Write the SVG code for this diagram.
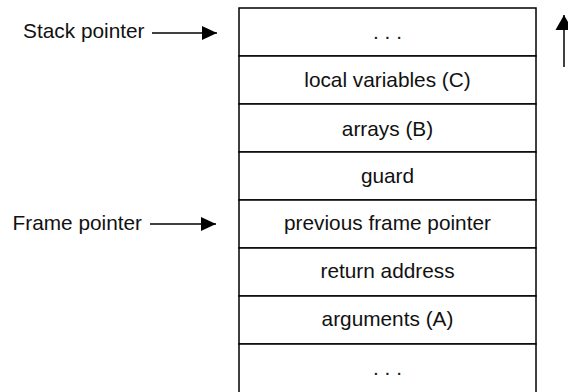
<svg xmlns="http://www.w3.org/2000/svg" width="568" height="392" viewBox="0 0 568 392">
  <style>
    .cell { fill: #ffffff; stroke: #000000; stroke-width: 1.5; }
    .lbl { font-family: "Liberation Sans", Arial, Helvetica, sans-serif; font-size: 20.8px; fill: #111111; }
    .mid { text-anchor: middle; }
    .end { text-anchor: end; }
    .conn { stroke: #000000; stroke-width: 1.5; fill: none; }
  </style>
  <defs>
    <marker id="head" markerUnits="userSpaceOnUse" markerWidth="16" markerHeight="14" refX="15" refY="7" orient="auto" overflow="visible">
      <path d="M0,0 L15,7 L0,14 z" fill="#000000"/>
    </marker>
    <marker id="headUp" markerUnits="userSpaceOnUse" markerWidth="16" markerHeight="18" refX="15" refY="8.5" orient="auto" overflow="visible">
      <path d="M0,0 L15,8.5 L0,17 z" fill="#000000"/>
    </marker>
  </defs>
  <rect x="0" y="0" width="568" height="392" fill="#ffffff"/>

  <g id="cell-top-ellipsis">
    <rect class="cell" x="239" y="8" width="297" height="48"/>
    <text class="lbl mid" x="387.5" y="39">. . .</text>
  </g>
  <g id="cell-local-variables">
    <rect class="cell" x="239" y="56" width="297" height="48"/>
    <text class="lbl mid" x="387.5" y="87">local variables (C)</text>
  </g>
  <g id="cell-arrays">
    <rect class="cell" x="239" y="104" width="297" height="48"/>
    <text class="lbl mid" x="387.5" y="135.5">arrays (B)</text>
  </g>
  <g id="cell-guard">
    <rect class="cell" x="239" y="152" width="297" height="48"/>
    <text class="lbl mid" x="387.5" y="183">guard</text>
  </g>
  <g id="cell-previous-frame-pointer">
    <rect class="cell" x="239" y="200" width="297" height="48"/>
    <text class="lbl mid" x="387.5" y="230">previous frame pointer</text>
  </g>
  <g id="cell-return-address">
    <rect class="cell" x="239" y="248" width="297" height="48"/>
    <text class="lbl mid" x="387.5" y="278">return address</text>
  </g>
  <g id="cell-arguments">
    <rect class="cell" x="239" y="296" width="297" height="48"/>
    <text class="lbl mid" x="387.5" y="326">arguments (A)</text>
  </g>
  <g id="cell-bottom-ellipsis">
    <rect class="cell" x="239" y="344" width="297" height="60"/>
    <text class="lbl mid" x="387.5" y="375">. . .</text>
  </g>

  <g id="label-stack-pointer">
    <text class="lbl end" x="144.5" y="38">Stack pointer</text>
  </g>
  <g id="label-frame-pointer">
    <text class="lbl end" x="142" y="230">Frame pointer</text>
  </g>

  <g id="connectors">
    <line class="conn" x1="152" y1="33" x2="217" y2="33" marker-end="url(#head)"/>
    <line class="conn" x1="150" y1="224" x2="216" y2="224" marker-end="url(#head)"/>
    <line class="conn" x1="564" y1="67" x2="564" y2="15" marker-end="url(#headUp)"/>
  </g>
</svg>
